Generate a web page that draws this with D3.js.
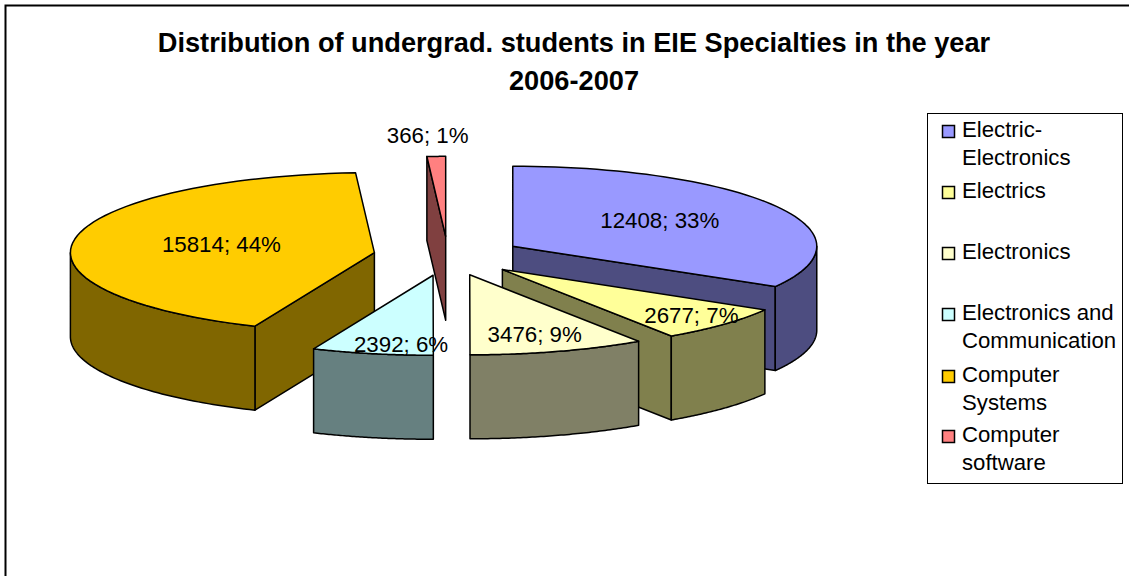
<!DOCTYPE html>
<html>
<head>
<meta charset="utf-8">
<script src="https://cdn.jsdelivr.net/npm/d3@7"></script>
<style>
  body { margin: 0; background: #fff; }
  text { font-family: "Liberation Sans", Arial, sans-serif; fill: #000; }
</style>
</head>
<body>
<div id="chart"></div>
<script>
var svgWidth = 1129;
var svgHeight = 576;

// data
var categories = ["Electric-Electronics", "Electrics", "Electronics", "Electronics and Communication", "Computer Systems", "Computer software"];
var students = [12408, 2677, 3476, 2392, 15814, 366];
var percents = [33, 7, 9, 6, 44, 1];
var colors = ["#9999FF", "#FFFF99", "#FFFFCC", "#CCFFFF", "#FFCC00", "#FF8080"];
var titleLines = ["Distribution of undergrad. students in EIE Specialties in the year", "2006-2007"];
var legendLines = [["Electric-", "Electronics"], ["Electrics"], ["Electronics"], ["Electronics and", "Communication"], ["Computer", "Systems"], ["Computer", "software"]];

// pie layout
var pieX = 448, pieY = 256, radiusX = 304, radiusY = 80, depth = 84;
var explode = 0.2457;
var drawOrder = [0, 1, 2, 5, 4, 3];
// label centre relative to the apex of its slice
var labelOffset = [[147, -18], [189, 54], [65, 67], [-32, 77], [-153, -1], [-18, -93]];

var svg = d3.select("#chart")
  .append("svg")
  .attr("width", svgWidth)
  .attr("height", svgHeight)
  .style("display", "block");

// chart frame, runs off the right and bottom of the picture
svg.append("rect")
  .attr("x", 5.5).attr("y", 5.5)
  .attr("width", svgWidth).attr("height", svgHeight)
  .attr("fill", "none")
  .attr("stroke", "#000")
  .attr("stroke-width", 2);

// title
svg.selectAll(".title")
  .data(titleLines)
  .enter()
  .append("text")
  .attr("class", "title")
  .attr("x", 574)
  .attr("y", (d, i) => 52 + i * 38)
  .attr("text-anchor", "middle")
  .attr("font-size", 27.2)
  .attr("font-weight", "bold")
  .text(d => d);

// project unit circle coordinates to the tilted ellipse
var xScale = d3.scaleLinear().domain([-1, 1]).range([pieX - radiusX, pieX + radiusX]);
var yScale = d3.scaleLinear().domain([-1, 1]).range([pieY - radiusY, pieY + radiusY]);

var slices = d3.pie().sort(null).startAngle(0).endAngle(2 * Math.PI)(students);

var line = d3.line().x(d => d[0]).y(d => d[1]);

function dark(c) {
  var rgb = d3.rgb(c);
  return d3.rgb(rgb.r / 2, rgb.g / 2, rgb.b / 2).formatHex();
}

// apex of an exploded slice
function apex(s) {
  var mid = (s.startAngle + s.endAngle) / 2;
  return [xScale(explode * Math.sin(mid)), yScale(-explode * Math.cos(mid))];
}

function rimPoints(s, a0, a1) {
  var c = apex(s);
  var pts = [];
  d3.range(0, 61).forEach(function(i) {
    var a = a0 + (a1 - a0) * i / 60;
    pts.push([c[0] + radiusX * Math.sin(a), c[1] - radiusY * Math.cos(a)]);
  });
  return pts;
}

function wall(p, q) {
  return [p, q, [q[0], q[1] + depth], [p[0], p[1] + depth]];
}

var pieGroup = svg.append("g");

drawOrder.forEach(function(i) {
  var s = slices[i];
  var c = apex(s);
  var g = pieGroup.append("g")
    .attr("stroke", "#000")
    .attr("stroke-width", 1.5)
    .attr("stroke-linejoin", "round");
  var wallColor = dark(colors[i]);

  // cut faces, only those turned towards the viewer
  if (Math.sin(s.startAngle) < -0.001) {
    g.append("path").attr("fill", wallColor)
      .attr("d", line(wall(c, rimPoints(s, s.startAngle, s.startAngle)[0])) + "Z");
  }
  if (Math.sin(s.endAngle) > 0.001) {
    g.append("path").attr("fill", wallColor)
      .attr("d", line(wall(c, rimPoints(s, s.endAngle, s.endAngle)[0])) + "Z");
  }

  // outer rim, front half of the ellipse only
  var a0 = Math.max(s.startAngle, Math.PI / 2);
  var a1 = Math.min(s.endAngle, 3 * Math.PI / 2);
  if (a1 > a0) {
    var top = rimPoints(s, a0, a1);
    var bottom = top.map(d => [d[0], d[1] + depth]).reverse();
    g.append("path").attr("fill", wallColor)
      .attr("d", line(top.concat(bottom)) + "Z");
  }

  // top face
  g.append("path").attr("fill", colors[i])
    .attr("d", line([c].concat(rimPoints(s, s.startAngle, s.endAngle))) + "Z");
});

// data labels
svg.selectAll(".label")
  .data(slices)
  .enter()
  .append("text")
  .attr("class", "label")
  .attr("x", (d, i) => apex(d)[0] + labelOffset[i][0])
  .attr("y", (d, i) => apex(d)[1] + labelOffset[i][1])
  .attr("text-anchor", "middle")
  .attr("font-size", 22.3)
  .text((d, i) => students[i] + "; " + percents[i] + "%");

// legend
svg.append("rect")
  .attr("x", 927.5).attr("y", 113.5)
  .attr("width", 195).attr("height", 370)
  .attr("fill", "#fff")
  .attr("stroke", "#000");

var legendSwatchY = [131, 192, 253, 314, 376, 436];
var legend = svg.selectAll(".legend")
  .data(categories)
  .enter()
  .append("g")
  .attr("class", "legend")
  .attr("transform", (d, i) => `translate(942, ${legendSwatchY[i]})`);

legend.append("rect")
  .attr("x", 0.5).attr("y", -5.5)
  .attr("width", 12).attr("height", 12)
  .attr("fill", (d, i) => colors[i])
  .attr("stroke", "#000")
  .attr("stroke-width", 1.5);

legend.selectAll("text")
  .data((d, i) => legendLines[i])
  .enter()
  .append("text")
  .attr("x", 20)
  .attr("y", (d, j) => 6 + j * 27.5)
  .attr("font-size", 22.2)
  .text(d => d);
</script>
</body>
</html>
